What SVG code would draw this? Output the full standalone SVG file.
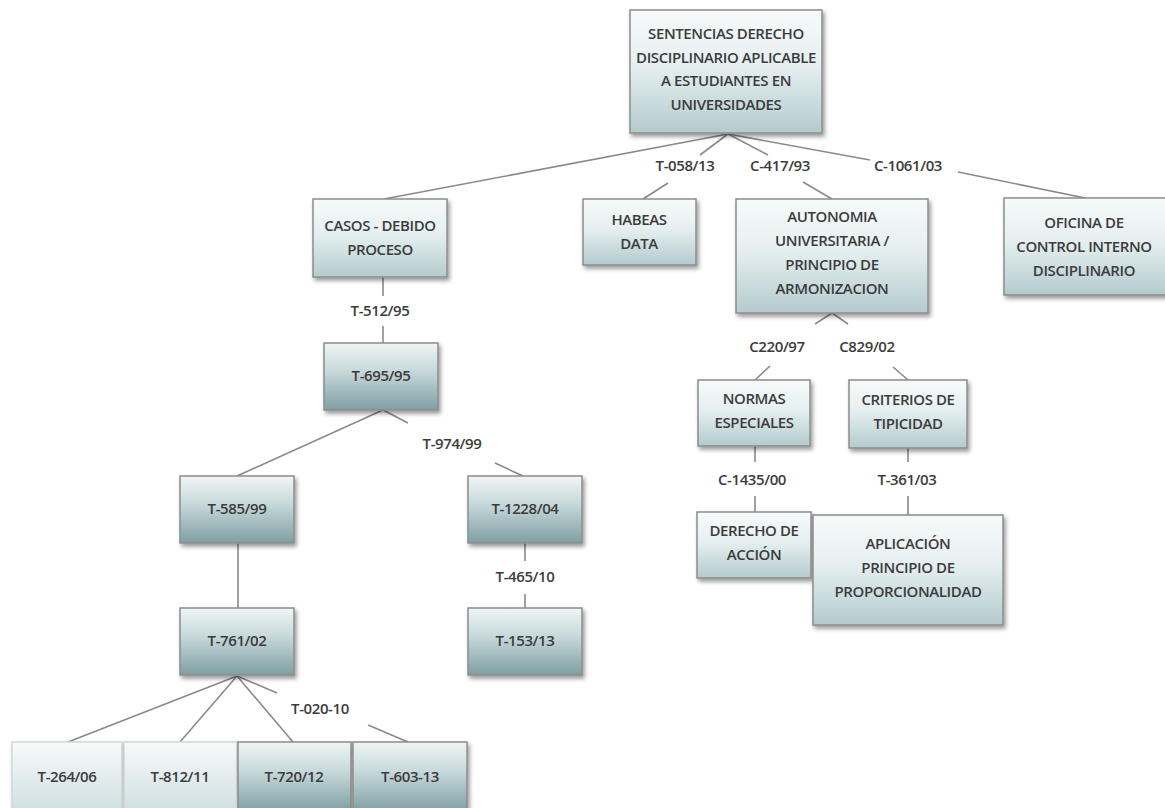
<svg xmlns="http://www.w3.org/2000/svg" width="1165" height="808" viewBox="0 0 1165 808">
<defs>
<linearGradient id="gLight" x1="0" y1="0" x2="0" y2="1">
<stop offset="0" stop-color="#f7fafa"/><stop offset="0.45" stop-color="#e6eff0"/><stop offset="1" stop-color="#b3cbce"/>
</linearGradient>
<linearGradient id="gDark" x1="0" y1="0" x2="0" y2="1">
<stop offset="0" stop-color="#f0f5f5"/><stop offset="0.4" stop-color="#c9dadc"/><stop offset="1" stop-color="#7f9fa3"/>
</linearGradient>
<linearGradient id="gPale" x1="0" y1="0" x2="0" y2="1">
<stop offset="0" stop-color="#f7fafa"/><stop offset="1" stop-color="#cfdfe1"/>
</linearGradient>
<filter id="sh" x="-10%" y="-10%" width="125%" height="135%">
<feDropShadow dx="2" dy="3" stdDeviation="2" flood-color="#000" flood-opacity="0.4"/>
</filter>
</defs>
<style>
.n{stroke:#8c8c8c;stroke-width:1.5;filter:url(#sh)}
.l{fill:url(#gLight)}
.d{fill:url(#gDark)}
.p{fill:url(#gPale);stroke:#d0d8d9}
text{font-family:"Open Sans","DejaVu Sans",sans-serif;font-weight:600;font-size:15px;letter-spacing:-0.4px;fill:#3c3c3c;text-anchor:middle}
.c line{stroke:#8a8a8a;stroke-width:1.6}
</style>
<rect width="1165" height="808" fill="#ffffff"/>
<g class="c" id="connectors">
<line x1="728" y1="134" x2="384" y2="199"/>
<line x1="728" y1="134" x2="700" y2="155"/>
<line x1="728" y1="134" x2="768" y2="155"/>
<line x1="728" y1="134" x2="870" y2="160"/>
<line x1="958" y1="172" x2="1085" y2="198"/>
<line x1="668" y1="183" x2="643" y2="199"/>
<line x1="803" y1="182" x2="832" y2="199"/>
<line x1="832" y1="313" x2="815" y2="324"/>
<line x1="832" y1="313" x2="848" y2="324"/>
<line x1="770" y1="366" x2="755" y2="380"/>
<line x1="893" y1="367" x2="908" y2="380"/>
<line x1="755" y1="446" x2="755" y2="462"/>
<line x1="755" y1="496" x2="755" y2="512"/>
<line x1="908" y1="448" x2="908" y2="462"/>
<line x1="908" y1="496" x2="908" y2="515"/>
<line x1="383" y1="277" x2="383" y2="296"/>
<line x1="383" y1="326" x2="383" y2="343"/>
<line x1="383" y1="410" x2="237" y2="476"/>
<line x1="383" y1="410" x2="408" y2="423"/>
<line x1="495" y1="463" x2="523" y2="476"/>
<line x1="238" y1="543" x2="238" y2="608"/>
<line x1="525" y1="543" x2="525" y2="561"/>
<line x1="525" y1="594" x2="525" y2="608"/>
<line x1="237" y1="676" x2="68" y2="742"/>
<line x1="237" y1="676" x2="180" y2="742"/>
<line x1="237" y1="676" x2="293" y2="742"/>
<line x1="237" y1="676" x2="277" y2="693"/>
<line x1="368" y1="725" x2="408" y2="742"/>
</g>
<g id="edge-labels">
<text x="685" y="171">T-058/13</text>
<text x="780" y="171">C-417/93</text>
<text x="908" y="171">C-1061/03</text>
<text x="777" y="352">C220/97</text>
<text x="867" y="352">C829/02</text>
<text x="752" y="485">C-1435/00</text>
<text x="907" y="485">T-361/03</text>
<text x="380" y="316">T-512/95</text>
<text x="452" y="449">T-974/99</text>
<text x="525" y="582">T-465/10</text>
<text x="320" y="714">T-020-10</text>
</g>
<g id="root"><rect class="n l" x="630" y="10" width="192" height="123"/>
<text x="726" y="39">SENTENCIAS DERECHO</text><text x="726" y="63">DISCIPLINARIO APLICABLE</text><text x="726" y="86">A ESTUDIANTES EN</text><text x="726" y="110">UNIVERSIDADES</text></g>
<g id="casos"><rect class="n l" x="313" y="199" width="134" height="78"/>
<text x="380" y="231">CASOS - DEBIDO</text><text x="380" y="255">PROCESO</text></g>
<g id="habeas"><rect class="n l" x="583" y="199" width="113" height="66"/>
<text x="639" y="225">HABEAS</text><text x="639" y="249">DATA</text></g>
<g id="autonomia"><rect class="n l" x="736" y="199" width="192" height="114"/>
<text x="832" y="222">AUTONOMIA</text><text x="832" y="246">UNIVERSITARIA /</text><text x="832" y="270">PRINCIPIO DE</text><text x="832" y="294">ARMONIZACION</text></g>
<g id="oficina"><rect class="n l" x="1004" y="198" width="165" height="97"/>
<text x="1084" y="228">OFICINA DE</text><text x="1084" y="252">CONTROL INTERNO</text><text x="1084" y="276">DISCIPLINARIO</text></g>
<g id="normas"><rect class="n l" x="698" y="380" width="112" height="66"/>
<text x="754" y="404">NORMAS</text><text x="754" y="428">ESPECIALES</text></g>
<g id="criterios"><rect class="n l" x="849" y="380" width="118" height="68"/>
<text x="908" y="405">CRITERIOS DE</text><text x="908" y="429">TIPICIDAD</text></g>
<g id="derecho"><rect class="n l" x="697" y="512" width="114" height="66"/>
<text x="754" y="536">DERECHO DE</text><text x="754" y="560">ACCIÓN</text></g>
<g id="aplicacion"><rect class="n l" x="813" y="515" width="190" height="110"/>
<text x="908" y="549">APLICACIÓN</text><text x="908" y="573">PRINCIPIO DE</text><text x="908" y="597">PROPORCIONALIDAD</text></g>
<g id="t695"><rect class="n d" x="324" y="343" width="114" height="67"/><text x="381" y="381">T-695/95</text></g>
<g id="t585"><rect class="n d" x="180" y="476" width="114" height="67"/><text x="237" y="514">T-585/99</text></g>
<g id="t761"><rect class="n d" x="180" y="608" width="114" height="67"/><text x="237" y="646">T-761/02</text></g>
<g id="t1228"><rect class="n d" x="468" y="476" width="114" height="67"/><text x="525" y="514">T-1228/04</text></g>
<g id="t153"><rect class="n d" x="468" y="608" width="114" height="67"/><text x="525" y="646">T-153/13</text></g>
<g id="t264"><rect class="n p" x="12" y="742" width="110" height="70"/><text x="67" y="782">T-264/06</text></g>
<g id="t812"><rect class="n p" x="124" y="742" width="113" height="70"/><text x="180" y="782">T-812/11</text></g>
<g id="t720"><rect class="n d" x="238" y="742" width="113" height="70"/><text x="294" y="782">T-720/12</text></g>
<g id="t603"><rect class="n d" x="353" y="742" width="114" height="70"/><text x="410" y="782">T-603-13</text></g>
</svg>
